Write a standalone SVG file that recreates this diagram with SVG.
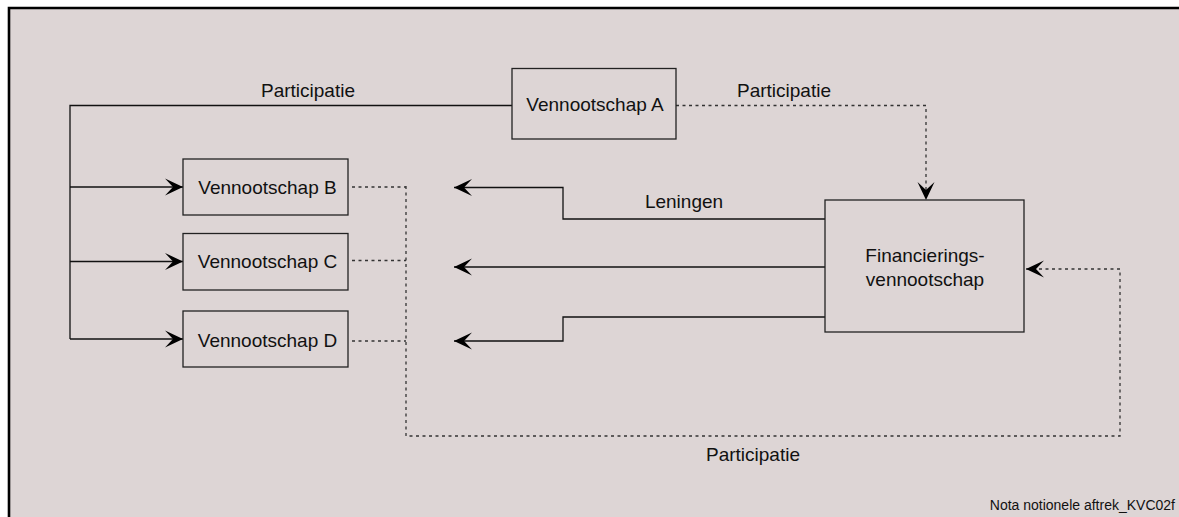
<svg xmlns="http://www.w3.org/2000/svg" width="1179" height="517" viewBox="0 0 1179 517">
<defs>
<style>
.box{fill:none;stroke:#222;stroke-width:1.3}
.lbl{font-family:"Liberation Sans",Arial,sans-serif;font-size:19px;fill:#111}
.small{font-family:"Liberation Sans",Arial,sans-serif;font-size:14px;fill:#111}
.solid{fill:none;stroke:#111;stroke-width:1.3}
.dot{fill:none;stroke:#333;stroke-width:1.3;stroke-dasharray:3 3.5}
</style>
<marker id="arr" viewBox="-20 -10 22 20" refX="0" refY="0" markerWidth="22" markerHeight="20" markerUnits="userSpaceOnUse" orient="auto">
<path d="M0,0 L-18,-8.5 L-10,0 L-18,8.5 Z" fill="#000"/>
</marker>
</defs>
<rect x="0" y="0" width="1179" height="517" fill="#ffffff"/>
<rect x="9" y="8" width="1170" height="509" fill="#ddd5d5"/>
<path d="M9,517 V8 H1179" fill="none" stroke="#000" stroke-width="2.6"/>

<g id="connectors">
<path class="solid" d="M512,105.5 H70 V339"/>
<path class="solid" d="M70,187 H183" marker-end="url(#arr)"/>
<path class="solid" d="M70,261.5 H183" marker-end="url(#arr)"/>
<path class="solid" d="M70,339 H183" marker-end="url(#arr)"/>
<path class="dot" d="M676,105.5 H926 V200" marker-end="url(#arr)"/>
<path class="solid" d="M825,219 H563 V187.5 H454" marker-end="url(#arr)"/>
<path class="solid" d="M825,267 H454" marker-end="url(#arr)"/>
<path class="solid" d="M825,317 H563 V341 H454" marker-end="url(#arr)"/>
<path class="dot" d="M352,187 H406 M352,260.5 H406 M352,341 H406"/>
<path class="dot" d="M406,186 V436 H1120 V269 H1026" marker-end="url(#arr)"/>
</g>

<g id="labels">
<text class="lbl" x="308" y="96.5" text-anchor="middle">Participatie</text>
<text class="lbl" x="784" y="96.5" text-anchor="middle">Participatie</text>
<text class="lbl" x="684" y="208" text-anchor="middle">Leningen</text>
<text class="lbl" x="753" y="461" text-anchor="middle">Participatie</text>
<text class="small" x="1175" y="510" text-anchor="end">Nota notionele aftrek_KVC02f</text>
</g>

<g id="nodeA">
<rect class="box" x="512" y="68.5" width="164" height="70.5"/>
<text class="lbl" x="595" y="111" text-anchor="middle">Vennootschap A</text>
</g>
<g id="nodeB">
<rect class="box" x="183" y="159" width="165" height="56"/>
<text class="lbl" x="267.5" y="194.3" text-anchor="middle">Vennootschap B</text>
</g>
<g id="nodeC">
<rect class="box" x="183" y="233.5" width="165" height="56.5"/>
<text class="lbl" x="267.5" y="268.3" text-anchor="middle">Vennootschap C</text>
</g>
<g id="nodeD">
<rect class="box" x="183" y="311" width="165" height="56"/>
<text class="lbl" x="267.5" y="346.5" text-anchor="middle">Vennootschap D</text>
</g>
<g id="nodeFin">
<rect class="box" x="825" y="200" width="199" height="132"/>
<text class="lbl" x="925" y="262" text-anchor="middle">Financierings-</text>
<text class="lbl" x="925" y="285.5" text-anchor="middle">vennootschap</text>
</g>
</svg>
